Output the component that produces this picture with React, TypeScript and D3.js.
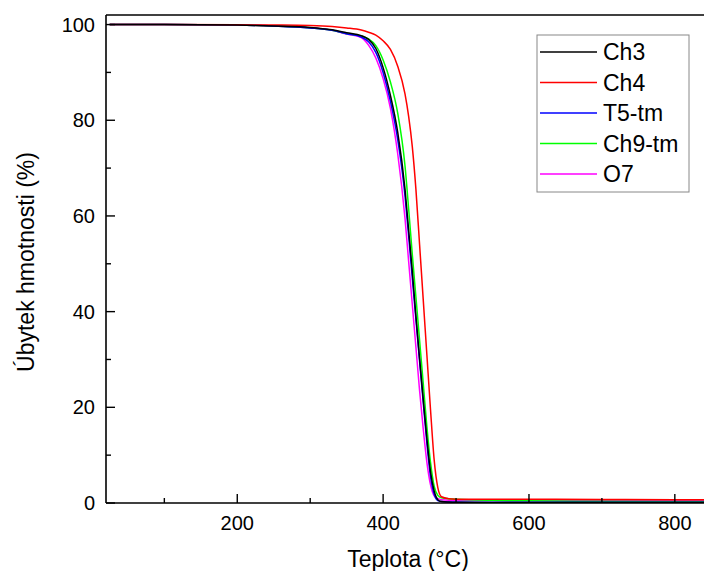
import React from "react";
import * as d3 from "d3";

const temperatures = [25, 100, 200, 250, 300, 330, 350, 370, 380, 390, 400, 410, 420, 430, 435, 440, 445, 450, 455, 460, 465, 470, 475, 480, 490, 500, 550, 600, 700, 800, 840];

const ch3 = [100, 100, 99.9, 99.7, 99.4, 98.9, 98.3, 97.7, 96.9, 95.0, 91.0, 85.2, 77.5, 65.6, 57.0, 48.5, 39.0, 30.2, 21.7, 13.5, 6.5, 2.5, 0.7, 0.3, 0.2, 0.15, 0.1, 0.1, 0.1, 0.1, 0.1];
const ch4 = [100, 100, 99.95, 99.9, 99.8, 99.6, 99.3, 98.85, 98.4, 97.8, 96.6, 94.8, 91.3, 85.5, 80.8, 74.5, 65.5, 54.0, 42.5, 31.0, 19.5, 9.0, 3.2, 1.3, 0.9, 0.8, 0.8, 0.8, 0.75, 0.7, 0.7];
const t5tm = [100, 100, 99.9, 99.7, 99.3, 98.8, 98.1, 97.4, 96.4, 94.2, 90.0, 84.0, 76.0, 64.2, 55.8, 47.0, 38.3, 29.6, 21.0, 12.5, 5.5, 1.8, 0.5, 0.3, 0.2, 0.2, 0.15, 0.15, 0.15, 0.15, 0.15];
const ch9tm = [100, 100, 99.9, 99.7, 99.3, 98.8, 98.1, 97.6, 97.0, 95.6, 92.6, 88.0, 81.5, 70.5, 61.5, 52.0, 43.0, 34.0, 25.0, 16.0, 8.5, 3.5, 1.6, 1.1, 0.9, 0.8, 0.55, 0.45, 0.35, 0.3, 0.3];
const o7 = [100, 100, 99.9, 99.7, 99.3, 98.8, 98.0, 97.3, 95.7, 93.0, 88.7, 82.5, 73.0, 59.5, 50.5, 41.5, 32.5, 23.5, 15.5, 8.5, 3.8, 1.5, 0.9, 0.7, 0.6, 0.6, 0.55, 0.5, 0.5, 0.5, 0.5];

const seriesNames = ["Ch3", "Ch4", "T5-tm", "Ch9-tm", "O7"];
const seriesValues = [ch3, ch4, t5tm, ch9tm, o7];
const seriesColors = ["#000000", "#ff0000", "#0000ff", "#00ff00", "#ff00ff"];

const xMajorTicks = [200, 400, 600, 800];
const xMinorTicks = [100, 300, 500, 700];
const yMajorTicks = [0, 20, 40, 60, 80, 100];
const yMinorTicks = [10, 30, 50, 70, 90];

const W = 704;
const H = 571;
const left = 106;
const right = 704;
const top = 15;
const bottom = 503;
const font = "'Liberation Sans', Arial, sans-serif";

export default function App() {
  const x = d3.scaleLinear().domain([20, 840]).range([left, right]);
  const y = d3.scaleLinear().domain([0, 102]).range([bottom, top]);
  const line = d3
    .line<[number, number]>()
    .x((d) => x(d[0]))
    .y((d) => y(d[1]))
    .curve(d3.curveMonotoneX);

  const drawOrder = [4, 3, 2, 1, 0];

  return (
    <svg
      width={W}
      height={H}
      style={{ position: "absolute", left: 0, top: 0, background: "#fff" }}
      fontFamily={font}
    >
      <rect x={0} y={0} width={W} height={H} fill="#fff" />
      <defs>
        <clipPath id="plot">
          <rect x={left} y={top} width={right - left} height={bottom - top} />
        </clipPath>
      </defs>
      <g clipPath="url(#plot)">
        {drawOrder.map((i) => (
          <path
            key={seriesNames[i]}
            d={line(temperatures.map((t, k) => [t, seriesValues[i][k]]) as [number, number][]) || ""}
            fill="none"
            stroke={seriesColors[i]}
            strokeWidth={1.5}
          />
        ))}
      </g>
      <line x1={left} x2={left} y1={top} y2={bottom} stroke="#000" strokeWidth={1.6} />
      <line x1={left} x2={right} y1={bottom} y2={bottom} stroke="#000" strokeWidth={1.6} />
      <line x1={left} x2={right} y1={top} y2={top} stroke="#000" strokeWidth={1.6} />
      {xMajorTicks.map((t) => (
        <g key={"xm" + t}>
          <line x1={x(t)} x2={x(t)} y1={bottom} y2={bottom - 9} stroke="#000" strokeWidth={1.4} />
          <text x={x(t)} y={530} fontSize={20} textAnchor="middle" fill="#000">
            {t}
          </text>
        </g>
      ))}
      {xMinorTicks.map((t) => (
        <line key={"xn" + t} x1={x(t)} x2={x(t)} y1={bottom} y2={bottom - 5} stroke="#000" strokeWidth={1.4} />
      ))}
      {yMajorTicks.map((t) => (
        <g key={"ym" + t}>
          <line x1={left} x2={left + 9} y1={y(t)} y2={y(t)} stroke="#000" strokeWidth={1.4} />
          <text x={95} y={y(t) + 7} fontSize={20} textAnchor="end" fill="#000">
            {t}
          </text>
        </g>
      ))}
      {yMinorTicks.map((t) => (
        <line key={"yn" + t} x1={left} x2={left + 5} y1={y(t)} y2={y(t)} stroke="#000" strokeWidth={1.4} />
      ))}
      <text x={408} y={567} fontSize={23} textAnchor="middle" fill="#000">
        Teplota (°C)
      </text>
      <text transform={`translate(34, 262) rotate(-90)`} fontSize={23} textAnchor="middle" fill="#000">
        Úbytek hmotnosti (%)
      </text>
      <rect x={537} y={35} width={152} height={157} fill="#fff" stroke="#888" strokeWidth={1} />
      {seriesNames.map((name, i) => {
        const ly = 52 + i * 30.5;
        return (
          <g key={"lg" + name}>
            <line x1={540} x2={597} y1={ly} y2={ly} stroke={seriesColors[i]} strokeWidth={1.5} />
            <text x={603} y={ly + 8} fontSize={23} fill="#000">
              {name}
            </text>
          </g>
        );
      })}
    </svg>
  );
}
